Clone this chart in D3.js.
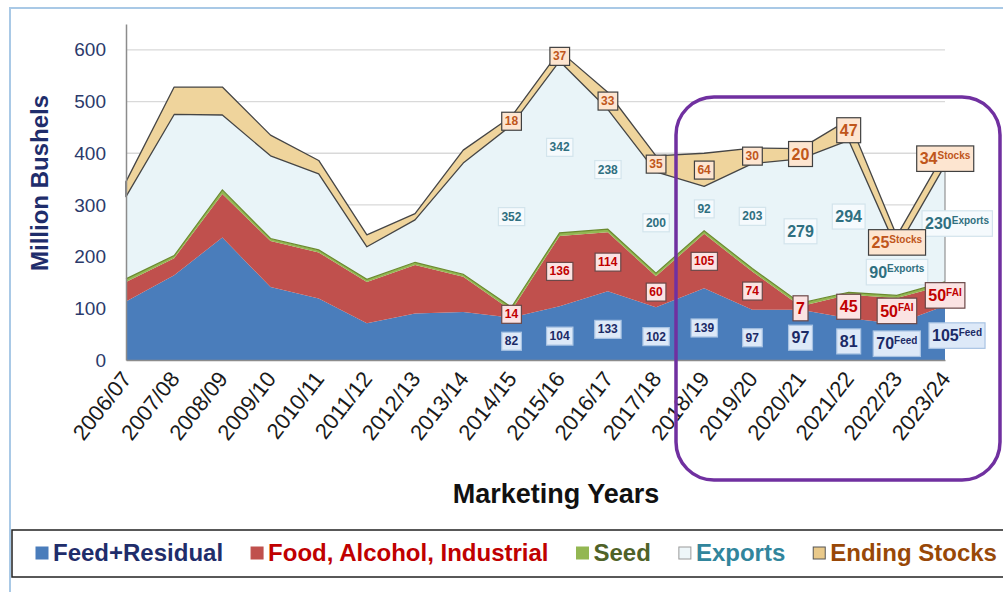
<!DOCTYPE html>
<html lang="en">
<head>
    <meta charset="UTF-8">
    <title>Sorghum Supply and Use</title>
    <script src="https://d3js.org/d3.v7.min.js"></script>
    <style>
        body { margin: 0; background: #fff; }
        svg text { font-family: "Liberation Sans", Arial, sans-serif; }
    </style>
</head>
<body>
    <div id="chart"></div>

    <script>
        // values in million bushels
        const years = ["2006/07", "2007/08", "2008/09", "2009/10", "2010/11", "2011/12", "2012/13", "2013/14", "2014/15",
                       "2015/16", "2016/17", "2017/18", "2018/19", "2019/20", "2020/21", "2021/22", "2022/23", "2023/24"];
        const feed    = [113, 164, 237, 141, 119, 71, 90, 93, 82, 104, 133, 102, 139, 97, 97, 81, 70, 105];
        const fai     = [38, 33, 84, 89, 89, 80, 94, 68, 14, 136, 114, 60, 105, 74, 7, 45, 50, 40];
        const seed    = [6, 5, 8, 5, 5, 5, 5, 5, 6, 6, 6, 6, 6, 6, 6, 5, 5, 6];
        const exportsV = [159, 273, 145, 160, 147, 63, 82, 215, 352, 332, 232, 196, 86, 203, 279, 294, 90, 226];
        const stocks  = [29, 53, 54, 40, 26, 23, 12, 25, 17, 20, 33, 31, 64, 30, 20, 40, 25, 25];
        const yTicks  = [0, 100, 200, 300, 400, 500, 600];

        // printed labels for the later years
        const noteYears   = ["2014/15", "2015/16", "2016/17", "2017/18", "2018/19", "2019/20", "2020/21", "2021/22", "2022/23", "2023/24"];
        const stockNotes  = ["18", "37", "33", "35", "64", "30", "20", "47", "25", "34"];
        const exportNotes = ["352", "342", "238", "200", "92", "203", "279", "294", "90", "230"];
        const faiNotes    = ["14", "136", "114", "60", "105", "74", "7", "45", "50", "50"];
        const feedNotes   = ["82", "104", "133", "102", "139", "97", "97", "81", "70", "105"];
        const supYears    = ["2022/23", "2023/24"];

        const keys = ["feed", "fai", "seed", "exports", "stocks"];
        const table = years.map((yr, i) => ({
            year: yr, feed: feed[i], fai: fai[i], seed: seed[i], exports: exportsV[i], stocks: stocks[i]
        }));

        const width = 1003, height = 592;
        const svg = d3.select("#chart").append("svg")
                      .attr("width", width)
                      .attr("height", height);

        // outer frame
        svg.append("rect")
           .attr("x", 10).attr("y", 8)
           .attr("width", 1010).attr("height", 600)
           .attr("fill", "#fff")
           .attr("stroke", "#a9c9e6")
           .attr("stroke-width", 2);

        const x = d3.scalePoint().domain(years).range([126, 945]);
        const y = d3.scaleLinear().domain([0, 650]).range([360, 24]);

        // grid
        svg.append("g").selectAll("line")
           .data(yTicks.filter(t => t > 0))
           .join("line")
           .attr("x1", 126).attr("x2", 945)
           .attr("y1", d => y(d)).attr("y2", d => y(d))
           .attr("stroke", "#d9d9d9")
           .attr("stroke-width", 1.3);

        const series = d3.stack().keys(keys)(table);
        const area = d3.area()
                       .x(d => x(d.data.year))
                       .y0(d => y(d[0]))
                       .y1(d => y(d[1]));

        const fills = { feed: "#4a7dbb", fai: "#c0504d", seed: "#93b752", exports: "#e9f4f8", stocks: "#efd49c" };

        svg.append("g").selectAll("path")
           .data(series)
           .join("path")
           .attr("d", area)
           .attr("fill", d => fills[d.key])
           .attr("stroke", d => d.key === "stocks" ? "#454545" : "none")
           .attr("stroke-width", 1.3)
           .attr("stroke-linejoin", "round");

        // darker edge along the top of the seed strip
        const seedTop = d3.line().x(d => x(d.data.year)).y(d => y(d[1]));
        svg.append("path")
           .attr("d", seedTop(series[2]))
           .attr("fill", "none")
           .attr("stroke", "#6a8a2e")
           .attr("stroke-width", 1.2);

        // right edge of the exports block
        const last = years.length - 1;
        svg.append("line")
           .attr("x1", x(years[last])).attr("x2", x(years[last]))
           .attr("y1", y(series[3][last][0])).attr("y2", y(series[3][last][1]))
           .attr("stroke", "#7f7f7f").attr("stroke-width", 1);

        // axes
        const yAxis = svg.append("g")
                         .attr("transform", "translate(126,0)")
                         .call(d3.axisLeft(y).tickValues(yTicks).tickSize(0).tickPadding(20));
        yAxis.select(".domain").attr("stroke", "#8c8c8c").attr("stroke-width", 1.5);
        yAxis.selectAll("text")
             .attr("font-size", 19)
             .attr("fill", "#2b3a6b");

        const xAxis = svg.append("g")
                         .attr("transform", "translate(0,360)")
                         .call(d3.axisBottom(x).tickSize(0).tickPadding(0));
        xAxis.select(".domain").attr("stroke", "#8c8c8c").attr("stroke-width", 1.5);
        xAxis.selectAll("text")
             .attr("font-size", 22)
             .attr("fill", "#1a1a1a")
             .attr("text-anchor", "end")
             .attr("dy", 0)
             .attr("transform", "translate(6,19) rotate(-52)");

        // value labels
        const styles = {
            stocks:  { fill: "#fde5d0", stroke: "#404040", color: "#c0561b" },
            exports: { fill: "#f5fafd", stroke: "#d3e4ec", color: "#2f6f80" },
            fai:     { fill: "#fbe3e3", stroke: "#6b4848", color: "#c00000" },
            feed:    { fill: "#dde9f8", stroke: "#a8c3e3", color: "#1b2a66" }
        };
        const supText = { stocks: "Stocks", exports: "Exports", fai: "FAI", feed: "Feed" };
        const notes = { stocks: stockNotes, exports: exportNotes, fai: faiNotes, feed: feedNotes };
        const layerIndex = { feed: 0, fai: 1, exports: 3, stocks: 4 };

        const labelG = svg.append("g");
        ["exports", "feed", "fai", "stocks"].forEach(key => {
            const st = styles[key];
            noteYears.forEach((yr, j) => {
                const i = years.indexOf(yr);
                const seg = series[layerIndex[key]][i];
                let val = (seg[0] + seg[1]) / 2;
                if (key === "feed") val = seg[1] * 0.45;
                const big = j >= 6;
                // the last column sits a little right of its point in the original
                const shift = (i === last && key !== "stocks" && key !== "fai") ? 12 : 0;
                const g = labelG.append("g")
                                .attr("transform", `translate(${x(yr) + shift},${y(val)})`);
                const rect = g.append("rect");
                const t = g.append("text")
                           .attr("text-anchor", "middle")
                           .attr("dy", "0.36em")
                           .attr("font-weight", "bold")
                           .attr("font-size", big ? 16 : 12)
                           .attr("fill", st.color);
                t.append("tspan").text(notes[key][j]);
                if (supYears.includes(yr)) {
                    t.append("tspan")
                     .attr("font-size", 10)
                     .attr("dy", "-0.55em")
                     .text(supText[key]);
                }
                const bb = t.node().getBBox();
                const px = 3, py = big ? 4 : 2;
                rect.attr("x", bb.x - px).attr("y", bb.y - py)
                    .attr("width", bb.width + 2 * px).attr("height", bb.height + 2 * py)
                    .attr("fill", st.fill)
                    .attr("stroke", st.stroke)
                    .attr("stroke-width", 1.2);
            });
        });

        // highlight box round the recent years
        svg.append("rect")
           .attr("x", 676).attr("y", 97)
           .attr("width", 324).attr("height", 383)
           .attr("rx", 38)
           .attr("fill", "none")
           .attr("stroke", "#7030a0")
           .attr("stroke-width", 3.5);

        // axis titles
        svg.append("text")
           .attr("transform", "translate(48,183) rotate(-90)")
           .attr("text-anchor", "middle")
           .attr("font-size", 24)
           .attr("font-weight", "bold")
           .attr("fill", "#1f2d6b")
           .text("Million Bushels");

        svg.append("text")
           .attr("x", 556).attr("y", 503)
           .attr("text-anchor", "middle")
           .attr("font-size", 27)
           .attr("font-weight", "bold")
           .attr("fill", "#111")
           .text("Marketing Years");

        // legend
        const legendItems = [
            { label: "Feed+Residual", box: "#4a7dbb", edge: "#4a7dbb", color: "#1f2d6b" },
            { label: "Food, Alcohol, Industrial", box: "#c0504d", edge: "#c0504d", color: "#c00000" },
            { label: "Seed", box: "#93b752", edge: "#93b752", color: "#4f6228" },
            { label: "Exports", box: "#eef6f9", edge: "#9a9a9a", color: "#31859c" },
            { label: "Ending Stocks", box: "#e9c98a", edge: "#555", color: "#984807" }
        ];
        svg.append("rect")
           .attr("x", 12).attr("y", 530)
           .attr("width", 1010).attr("height", 47)
           .attr("fill", "#fff")
           .attr("stroke", "#222")
           .attr("stroke-width", 1.5);

        let lx = 36;
        legendItems.forEach(it => {
            svg.append("rect")
               .attr("x", lx).attr("y", 547)
               .attr("width", 12).attr("height", 12)
               .attr("fill", it.box)
               .attr("stroke", it.edge);
            const t = svg.append("text")
                         .attr("x", lx + 17).attr("y", 561)
                         .attr("font-size", 24)
                         .attr("font-weight", "bold")
                         .attr("fill", it.color)
                         .text(it.label);
            lx += 17 + t.node().getComputedTextLength() + 28;
        });
    </script>
</body>
</html>
